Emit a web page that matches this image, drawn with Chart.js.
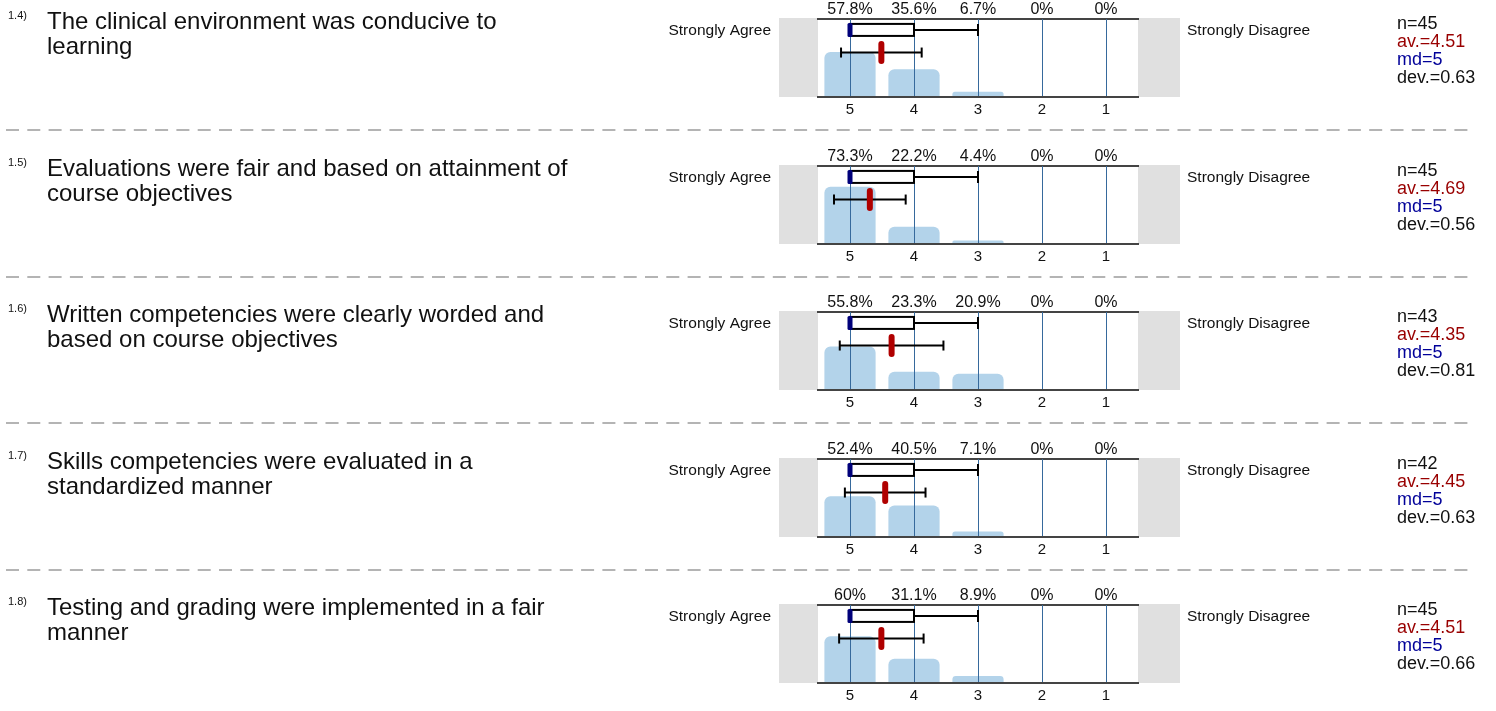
<!DOCTYPE html>
<html>
<head>
<meta charset="utf-8">
<script src="https://cdn.jsdelivr.net/npm/chart.js@4.4.1/dist/chart.umd.min.js"></script>
<style>
  html, body { margin: 0; padding: 0; background: #fff; overflow: hidden; }
  #wrap { position: relative; width: 1496px; height: 711px; }
  .row { position: absolute; left: 0; width: 1496px; height: 146px; }
</style>
</head>
<body>
<div id="wrap"></div>
<script>
// ---- DATA ----
const itemNumbers = ['1.4)', '1.5)', '1.6)', '1.7)', '1.8)'];
const questions = [
  ['The clinical environment was conducive to', 'learning'],
  ['Evaluations were fair and based on attainment of', 'course objectives'],
  ['Written competencies were clearly worded and', 'based on course objectives'],
  ['Skills competencies were evaluated in a', 'standardized manner'],
  ['Testing and grading were implemented in a fair', 'manner'],
];
const scaleValues = [5, 4, 3, 2, 1]; // categories, left to right
const leftPole = 'Strongly Agree';
const rightPole = 'Strongly Disagree';

// percentage of answers per scale value
const pct14 = [57.8, 35.6, 6.7, 0, 0];
const pct15 = [73.3, 22.2, 4.4, 0, 0];
const pct16 = [55.8, 23.3, 20.9, 0, 0];
const pct17 = [52.4, 40.5, 7.1, 0, 0];
const pct18 = [60, 31.1, 8.9, 0, 0];
const percentRows = [pct14, pct15, pct16, pct17, pct18];

const answerCounts = [45, 45, 43, 42, 45];
const averages = [4.51, 4.69, 4.35, 4.45, 4.51];
const medians = [5, 5, 5, 5, 5];
const deviations = [0.63, 0.56, 0.81, 0.63, 0.66];
// box plot: quartiles and whisker end
const quartileHigh = [5, 5, 5, 5, 5];
const quartileLow = [4, 4, 4, 4, 4];
const whiskerEnd = [3, 3, 3, 3, 3];

// ---- STYLE ----
const FONT = "'Liberation Sans', Arial, sans-serif";
Chart.defaults.font.family = FONT;
Chart.defaults.color = '#111';

const ROW_STEP = 146.6;
const BOX_LEVEL = 86;   // y (percent scale) of the box plot
const ERR_LEVEL = 57;   // y (percent scale) of the mean / deviation bar

function line(ctx, x1, y1, x2, y2) {
  ctx.beginPath();
  ctx.moveTo(x1, y1);
  ctx.lineTo(x2, y2);
  ctx.stroke();
}

// texts, grey ends and the box plot for one item
function rowDecor(i) {
  return {
    id: 'rowDecor',
    beforeDraw(chart) {
      const { ctx, chartArea: a } = chart;
      ctx.save();
      ctx.fillStyle = '#e0e0e0';
      ctx.fillRect(a.left - 39, a.top - 1, 39, a.bottom - a.top + 1);
      ctx.fillRect(a.right, a.top - 1, 42, a.bottom - a.top + 1);

      ctx.fillStyle = '#111';
      ctx.textBaseline = 'alphabetic';
      ctx.font = '11px ' + FONT;
      ctx.fillText(itemNumbers[i], 8, 18.5);
      ctx.font = '24px ' + FONT;
      questions[i].forEach((t, k) => ctx.fillText(t, 47, 29 + k * 24.5));

      ctx.font = '15.5px ' + FONT;
      ctx.textAlign = 'right';
      ctx.fillText(leftPole, a.left - 47, a.top + 15.5);
      ctx.textAlign = 'left';
      ctx.fillText(rightPole, a.right + 49, a.top + 15.5);

      // statistics
      const stats = [
        ['n=' + answerCounts[i], '#111'],
        ['av.=' + averages[i].toFixed(2), '#990000'],
        ['md=' + medians[i], '#000099'],
        ['dev.=' + deviations[i].toFixed(2), '#111'],
      ];
      ctx.font = '18px ' + FONT;
      stats.forEach(([t, c], k) => {
        ctx.fillStyle = c;
        ctx.fillText(t, 1397, a.top + 9.5 + k * 18.3);
      });

      // dashed separator under the item
      if (i < questions.length - 1) {
        ctx.strokeStyle = '#b4b4b4';
        ctx.lineWidth = 2;
        ctx.setLineDash([13, 8.3]);
        line(ctx, 6, 130, 1470, 130);
      }
      ctx.restore();
    },
    afterDraw(chart) {
      const { ctx } = chart;
      const x = chart.scales.x, y = chart.scales.y;
      const bx = y.getPixelForValue(BOX_LEVEL);
      const ey = y.getPixelForValue(ERR_LEVEL);
      const boxH = 12;
      ctx.save();
      ctx.strokeStyle = '#000';
      ctx.lineWidth = 2;
      // whisker
      const xw = x.getPixelForValue(whiskerEnd[i]);
      line(ctx, x.getPixelForValue(quartileLow[i]), bx, xw, bx);
      line(ctx, xw, bx - 6, xw, bx + 6);
      // box
      const x1 = x.getPixelForValue(quartileHigh[i]);
      const x2 = x.getPixelForValue(quartileLow[i]);
      ctx.fillStyle = '#fff';
      ctx.fillRect(x1, bx - boxH / 2, x2 - x1, boxH);
      ctx.strokeRect(x1, bx - boxH / 2, x2 - x1, boxH);
      // median
      const xm = x.getPixelForValue(medians[i]);
      ctx.fillStyle = '#00007a';
      ctx.beginPath();
      ctx.roundRect(xm - 2.5, bx - boxH / 2 - 1, 5, boxH + 2, 1.5);
      ctx.fill();
      // mean +/- deviation
      const xa = x.getPixelForValue(averages[i] + deviations[i]);
      const xb = x.getPixelForValue(averages[i] - deviations[i]);
      line(ctx, xa, ey, xb, ey);
      line(ctx, xa, ey - 5, xa, ey + 5);
      line(ctx, xb, ey - 5, xb, ey + 5);
      // mean marker
      const xav = x.getPixelForValue(averages[i]);
      ctx.strokeStyle = '#b00000';
      ctx.lineWidth = 6;
      ctx.lineCap = 'round';
      line(ctx, xav, ey - 8.5, xav, ey + 8.5);
      ctx.restore();
    },
  };
}

const setTicks = s => { s.ticks = scaleValues.map(v => ({ value: v })); };

const wrap = document.getElementById('wrap');
percentRows.forEach((pcts, i) => {
  const div = document.createElement('div');
  div.className = 'row';
  div.style.top = Math.round(i * ROW_STEP) + 'px';
  const canvas = document.createElement('canvas');
  canvas.width = 1496;
  canvas.height = 146;
  div.appendChild(canvas);
  wrap.appendChild(div);

  new Chart(canvas, {
    type: 'bar',
    data: {
      datasets: [{
        data: scaleValues.map((v, k) => ({ x: v, y: pcts[k] })),
        backgroundColor: '#b3d3ea',
        borderRadius: 6,
        barPercentage: 0.8,
        categoryPercentage: 1,
      }],
    },
    options: {
      responsive: false,
      animation: false,
      events: [],
      layout: { padding: { left: 818, right: 358, top: 0, bottom: 29 } },
      plugins: { legend: { display: false }, tooltip: { enabled: false } },
      scales: {
        x: {
          type: 'linear', min: 0.5, max: 5.5, reverse: true, offset: false,
          afterBuildTicks: setTicks,
          afterFit: s => { s.height = 20; },
          // z > 0: grid lines over the bars (border must come after the grid)
          grid: { color: '#36699c', lineWidth: 1, drawTicks: false, offset: false, z: 1 },
          border: { color: '#444', width: 2, z: 1 },
          ticks: { font: { size: 15 }, padding: 4, callback: v => String(v) },
        },
        top: {
          type: 'linear', position: 'top', min: 0.5, max: 5.5, reverse: true, offset: false,
          afterBuildTicks: setTicks,
          afterFit: s => { s.height = 19; },
          grid: { display: false, drawTicks: false, offset: false },
          border: { color: '#444', width: 2 },
          ticks: { font: { size: 16 }, padding: 0, callback: (v, k) => pcts[k] + '%' },
        },
        y: { min: 0, max: 100, display: false },
      },
    },
    plugins: [rowDecor(i)],
  });
});
</script>
</body>
</html>
